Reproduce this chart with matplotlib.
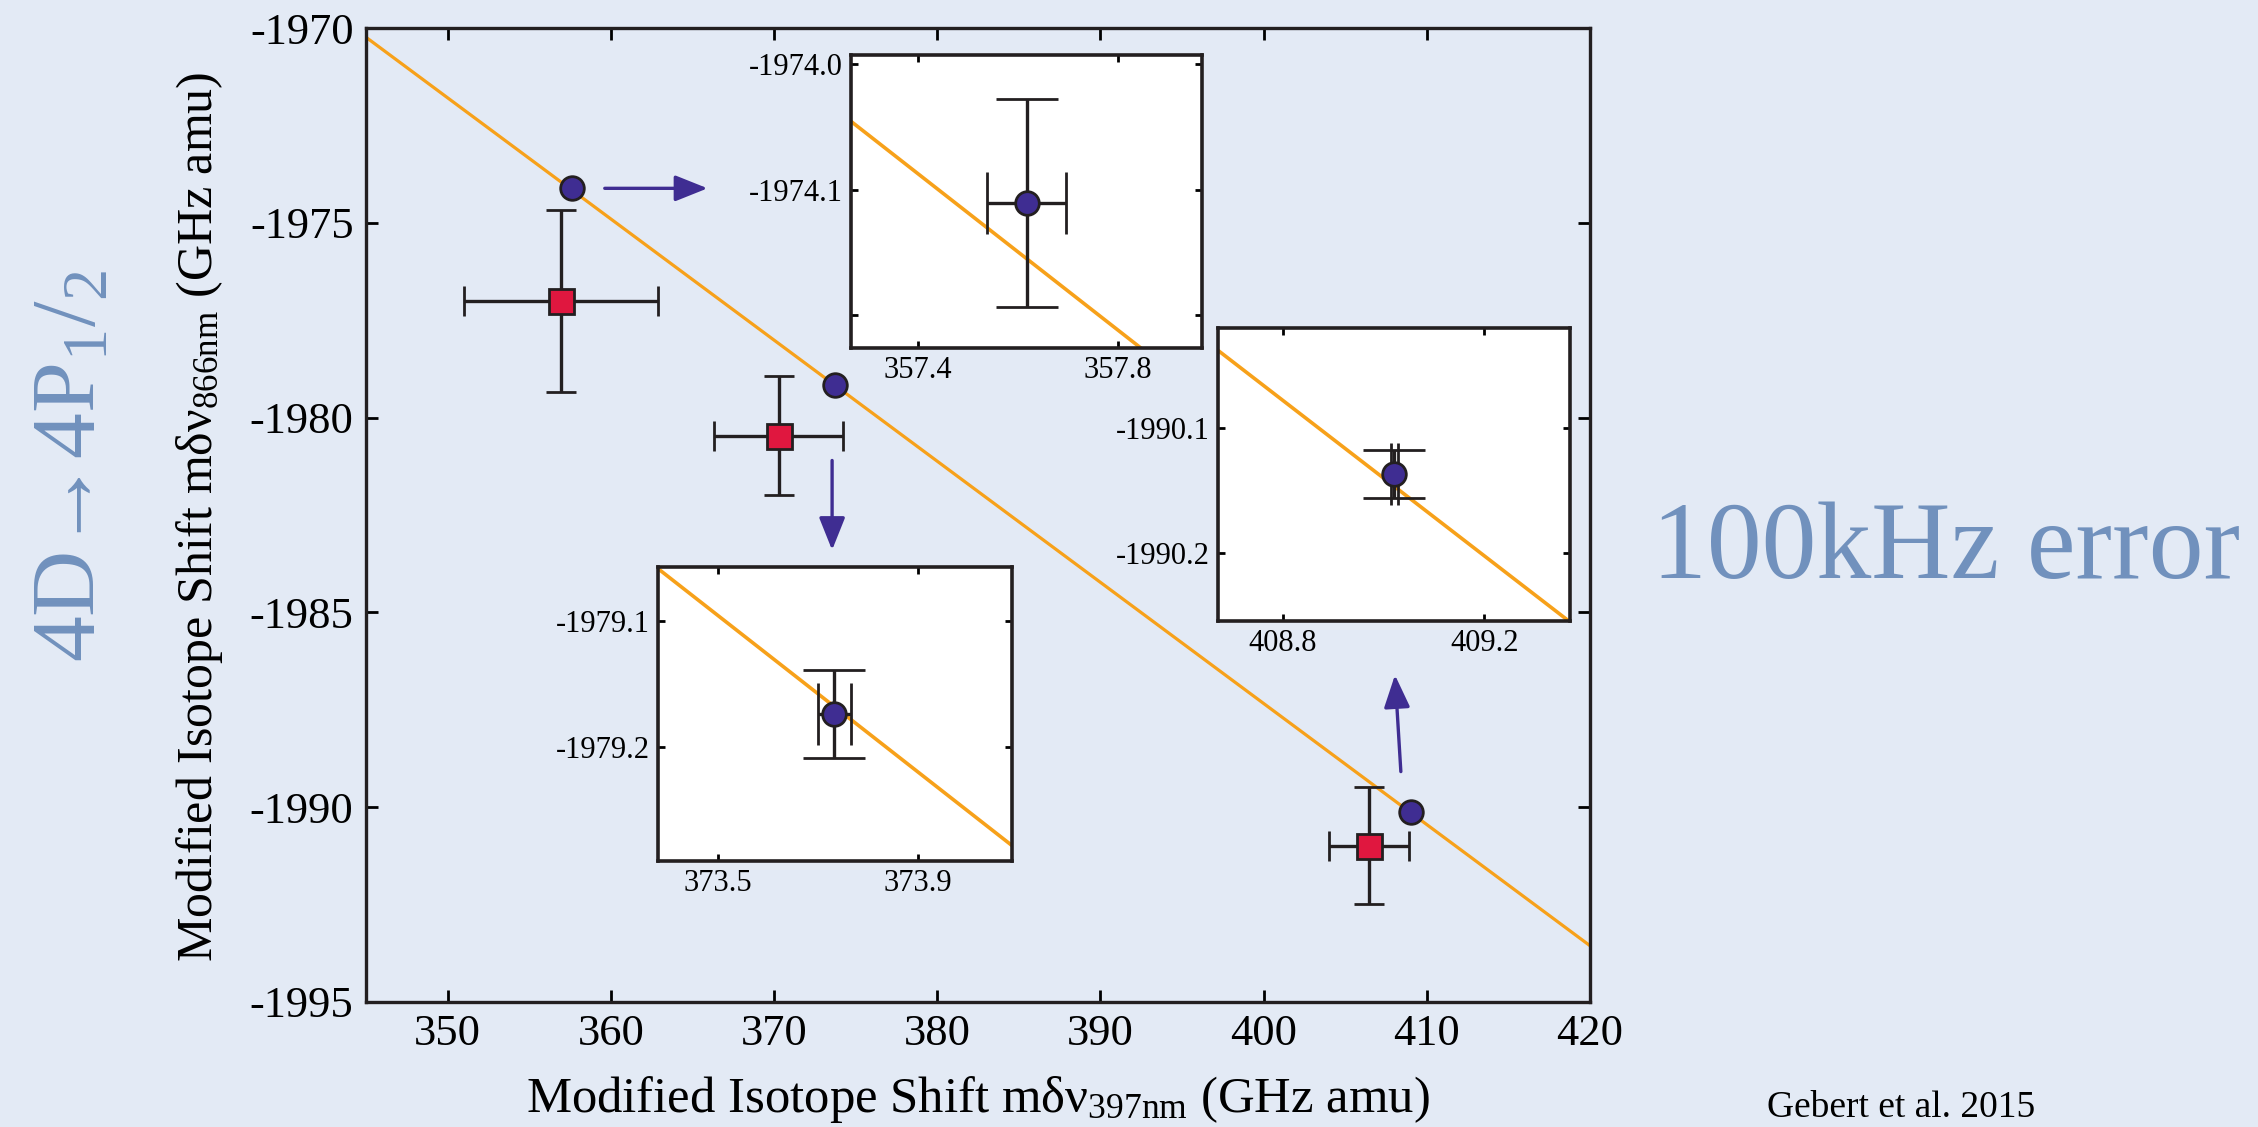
import matplotlib
matplotlib.use('Agg')
import numpy as np
import matplotlib.pyplot as plt

# isotope shift points (blue = precise, red = earlier data)
blue_x = [357.618, 373.732, 409.021]
blue_y = [-1974.1106, -1979.174, -1990.1366]
blue_xerr = [0.079, 0.033, 0.007]
blue_yerr = [0.0825, 0.035, 0.0196]

red_x = [356.93, 370.28, 406.46]
red_y = [-1977.0, -1980.46, -1990.99]
red_xerr = [5.95, 3.96, 2.43]
red_yerr = [2.34, 1.53, 1.5]

# king plot fit line
fit_slope = -0.3111
fit_intercept = -1862.90

main_xticks = [350, 360, 370, 380, 390, 400, 410, 420]
main_yticks = [-1970, -1975, -1980, -1985, -1990, -1995]

inset_xlims = [(357.267, 357.968), (373.38, 374.087), (408.672, 409.370)]
inset_ylims = [(-1974.226, -1973.993), (-1979.2907, -1979.0568), (-1990.254, -1990.020)]
inset_xticks = [[357.4, 357.8], [373.5, 373.9], [408.8, 409.2]]
inset_yticks = [[-1974.2, -1974.1, -1974.0], [-1979.2, -1979.1], [-1990.2, -1990.1]]
inset_yticklabels = [['', '-1974.1', '-1974.0'], ['-1979.2', '-1979.1'], ['-1990.2', '-1990.1']]

plt.rcParams['font.family'] = ['Liberation Serif', 'DejaVu Serif']
plt.rcParams['mathtext.fontset'] = 'custom'
plt.rcParams['mathtext.rm'] = 'Liberation Serif'
plt.rcParams['mathtext.it'] = 'Liberation Serif:italic'
plt.rcParams['axes.unicode_minus'] = False

bg = '#e3eaf5'
orange = '#f7a11a'
indigo = '#3f2d92'
crimson = '#e0173f'
ink = '#231f20'
slate = '#7191bd'

W, H = 2258, 1127
fig = plt.figure(figsize=(W / 100, H / 100), dpi=100, facecolor=bg)


def frac(x0, x1, y0, y1):
    return [x0 / W, 1 - y1 / H, (x1 - x0) / W, (y1 - y0) / H]


ax = fig.add_axes(frac(366, 1590, 28.3, 1001.7))
ax.set_facecolor('none')
ax.set_xlim(345, 420)
ax.set_ylim(-1995, -1970)
xx = np.array([345, 420])
ax.plot(xx, fit_intercept + fit_slope * xx, color=orange, lw=2.3, zorder=1)
ax.errorbar(red_x, red_y, xerr=red_xerr, yerr=red_yerr, fmt='s', ms=18,
            mfc=crimson, mec=ink, mew=2, ecolor=ink, elinewidth=2.4,
            capsize=11, capthick=2.4, zorder=3)
ax.plot(blue_x, blue_y, 'o', ms=17, mfc=indigo, mec=ink, mew=2, zorder=4)
ax.set_xticks(main_xticks)
ax.set_xticklabels([str(v) for v in main_xticks], fontfamily='Liberation Serif')
ax.set_yticks(main_yticks)
ax.set_yticklabels([str(v) for v in main_yticks], fontfamily='Liberation Serif')
ax.tick_params(direction='in', length=8.5, width=2, labelsize=32,
               top=True, right=True, pad=9)
for s in ax.spines.values():
    s.set_linewidth(2.4)
    s.set_color(ink)

# arrows pointing to the zoomed insets
arrows = [((359.63, -1974.11), (365.93, -1974.11)),
          ((373.56, -1981.10), (373.56, -1983.40)),
          ((408.41, -1989.09), (408.05, -1986.61))]
for start, end in arrows:
    ax.annotate('', xy=end, xytext=start,
                arrowprops=dict(arrowstyle='-|>,head_length=0.4,head_width=0.16',
                                mutation_scale=50, color=indigo, lw=2.4,
                                shrinkA=0, shrinkB=0))

fig.text(978 / W, 1 - 1112 / H, 'Modified Isotope Shift mδν$_{\\mathrm{397nm}}$ (GHz amu)',
         fontsize=36.5, ha='center', va='baseline')
fig.text(212 / W, 1 - 517 / H, 'Modified Isotope Shift mδν$_{\\mathrm{866nm}}$ (GHz amu)',
         fontsize=36, ha='center', va='baseline', rotation=90, rotation_mode='anchor')

# zoomed insets
inset_boxes = [(851, 1201.7, 55, 348), (658.3, 1011.7, 566.7, 860.7), (1218.3, 1570, 328.3, 620.7)]
for i, box in enumerate(inset_boxes):
    ia = fig.add_axes(frac(*box))
    ia.set_facecolor('white')
    x0, x1 = inset_xlims[i]
    ia.set_xlim(x0, x1)
    ia.set_ylim(*inset_ylims[i])
    lx = np.array([x0, x1])
    ia.plot(lx, fit_intercept + fit_slope * lx, color=orange, lw=2.6, zorder=1)
    ia.errorbar([blue_x[i]], [blue_y[i]], xerr=[blue_xerr[i]], yerr=[blue_yerr[i]],
                fmt='o', ms=17, mfc=indigo, mec=ink, mew=2, ecolor=ink,
                elinewidth=2.4, capsize=22, capthick=2.4, zorder=3)
    ia.set_xticks(inset_xticks[i])
    ia.set_xticklabels([f'{v:.1f}' for v in inset_xticks[i]])
    ia.set_yticks(inset_yticks[i])
    ia.set_yticklabels(inset_yticklabels[i])
    ia.tick_params(direction='in', length=5, width=2, labelsize=22,
                   top=True, right=True, pad=6)
    for s in ia.spines.values():
        s.set_linewidth(2.6)
        s.set_color(ink)

fig.text(95 / W, 1 - 466 / H, '4D→4P$_1$/$_2$', color=slate,
         fontsize=66, ha='center', va='baseline', rotation=90, rotation_mode='anchor')
fig.text(1652 / W, 1 - 578 / H, '100kHz error', color=slate, fontsize=79,
         ha='left', va='baseline')
fig.text(1767 / W, 1 - 1125 / H, 'Gebert et al. 2015', fontsize=27,
         ha='left', va='bottom')

fig.savefig('out.png', dpi=100, facecolor=bg)
